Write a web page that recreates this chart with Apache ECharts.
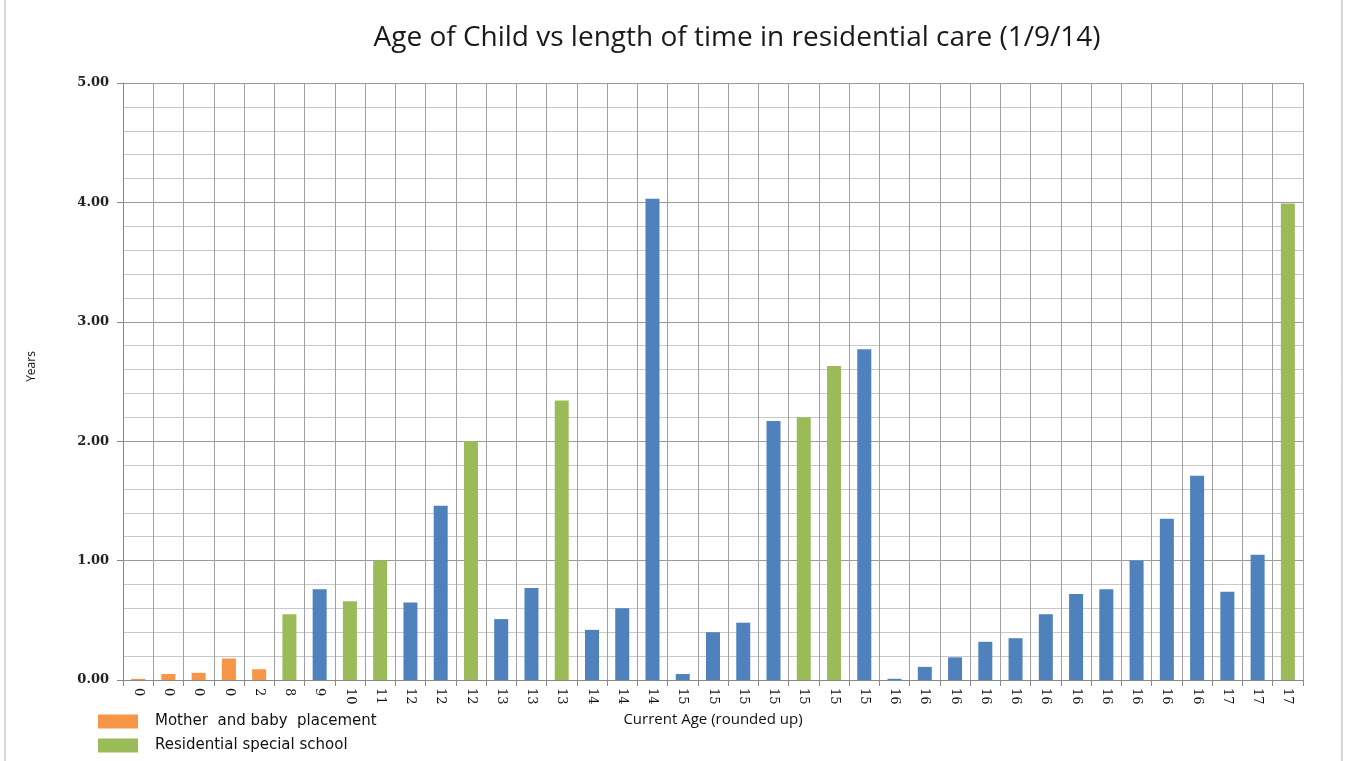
<!DOCTYPE html>
<html>
<head>
<meta charset="utf-8">
<title>Age of Child vs length of time in residential care</title>
<script src="https://cdn.jsdelivr.net/npm/echarts@6/dist/echarts.min.js"></script>
<style>
  html, body { margin: 0; padding: 0; background: #fff; }
  #container { width: 1348px; height: 761px; }
</style>
</head>
<body>
<div id="container"></div>
<script>
// current age (rounded up), one entry per child
var ages = ['0', '0', '0', '0', '2', '8', '9', '10', '11', '12', '12', '12', '13', '13', '13',
  '14', '14', '14', '15', '15', '15', '15', '15', '15', '15',
  '16', '16', '16', '16', '16', '16', '16', '16', '16', '16', '16', '17', '17', '17'];
// years in residential care
var years = [0.01, 0.05, 0.06, 0.18, 0.09, 0.55, 0.76, 0.66, 1.00, 0.65, 1.46, 2.00, 0.51, 0.77, 2.34,
  0.42, 0.60, 4.03, 0.05, 0.40, 0.48, 2.17, 2.20, 2.63, 2.77,
  0.01, 0.11, 0.19, 0.32, 0.35, 0.55, 0.72, 0.76, 1.00, 1.35, 1.71, 0.74, 1.05, 3.99];
// placement type: M = mother and baby, S = residential special school, C = other residential
var placement = ['M', 'M', 'M', 'M', 'M', 'S', 'C', 'S', 'S', 'C', 'C', 'S', 'C', 'C', 'S',
  'C', 'C', 'C', 'C', 'C', 'C', 'C', 'S', 'S', 'C',
  'C', 'C', 'C', 'C', 'C', 'C', 'C', 'C', 'C', 'C', 'C', 'C', 'C', 'S'];
var yTicks = [0, 1, 2, 3, 4, 5];

var seriesDefs = [
  { key: 'C', name: 'Residential care', color: '#4F81BD' },
  { key: 'M', name: 'Mother  and baby  placement', color: '#F79646' },
  { key: 'S', name: 'Residential special school', color: '#9BBB59' }
];

var myChart = echarts.init(document.getElementById('container'), null, { renderer: 'canvas' });

var series = seriesDefs.map(function (d) {
  return {
    name: d.name,
    type: 'bar',
    stack: 'all',
    barWidth: 14,
    itemStyle: { color: d.color },
    data: years.map(function (v, i) { return placement[i] === d.key ? v : '-'; })
  };
});

// one legend box per entry so they stack like the original
function legendBox(name, top) {
  return {
    data: [name],
    left: 98,
    top: top,
    padding: 0,
    itemWidth: 40,
    itemHeight: 14,
    icon: 'rect',
    textStyle: { fontFamily: 'DejaVu Sans', fontSize: 15, color: '#111', padding: [0, 0, 0, 12] }
  };
}

var option = {
  animation: false,
  backgroundColor: '#fff',
  title: {
    text: 'Age of Child vs length of time in residential care (1/9/14)',
    left: 732,
    textAlign: 'center',
    top: 19,
    textStyle: { fontFamily: 'Open Sans', fontSize: 28, fontWeight: 'normal', color: '#1a1a1a' }
  },
  legend: [legendBox(seriesDefs[1].name, 714), legendBox(seriesDefs[2].name, 738)],
  graphic: [{
    type: 'rect',
    shape: { x: 5, y: -5, width: 1337, height: 775 },
    style: { fill: 'none', stroke: '#b0b0b0', lineWidth: 1 },
    silent: true
  }],
  grid: { left: 123, right: 45, top: 83, bottom: 81, outerBoundsMode: 'none' },
  xAxis: {
    type: 'category',
    data: ages,
    name: 'Current Age (rounded up)',
    nameLocation: 'middle',
    nameGap: 28,
    nameTextStyle: { fontFamily: 'Open Sans', fontSize: 15, color: '#111' },
    axisLine: { lineStyle: { color: '#888' } },
    axisTick: { show: true, interval: 0, length: 6, lineStyle: { color: '#888' } },
    axisLabel: {
      interval: 0,
      rotate: -90,
      margin: 8,
      fontFamily: 'DejaVu Serif',
      fontSize: 13,
      color: '#111'
    },
    splitLine: { show: true, interval: 0, lineStyle: { color: '#a0a0a0', width: 1 } }
  },
  yAxis: {
    type: 'value',
    min: yTicks[0],
    max: yTicks[yTicks.length - 1],
    interval: 1,
    name: 'Years',
    nameLocation: 'middle',
    nameGap: 85,
    nameRotate: 90,
    nameTextStyle: { fontFamily: 'Open Sans', fontSize: 12, color: '#111', padding: [0, 0, 0, 30] },
    axisLine: { show: true, lineStyle: { color: '#888' } },
    axisTick: { show: true, length: 6, lineStyle: { color: '#888' } },
    axisLabel: {
      margin: 14,
      fontFamily: 'DejaVu Serif',
      fontWeight: 'bold',
      fontSize: 13,
      color: '#222',
      formatter: function (v) { return v.toFixed(2); }
    },
    splitLine: { lineStyle: { color: '#9a9a9a', width: 1 } },
    minorTick: { show: false, splitNumber: 5 },
    minorSplitLine: { show: true, lineStyle: { color: '#c8c8c8', width: 1 } }
  },
  series: series
};

myChart.setOption(option);
window.addEventListener('resize', myChart.resize);
</script>
</body>
</html>
